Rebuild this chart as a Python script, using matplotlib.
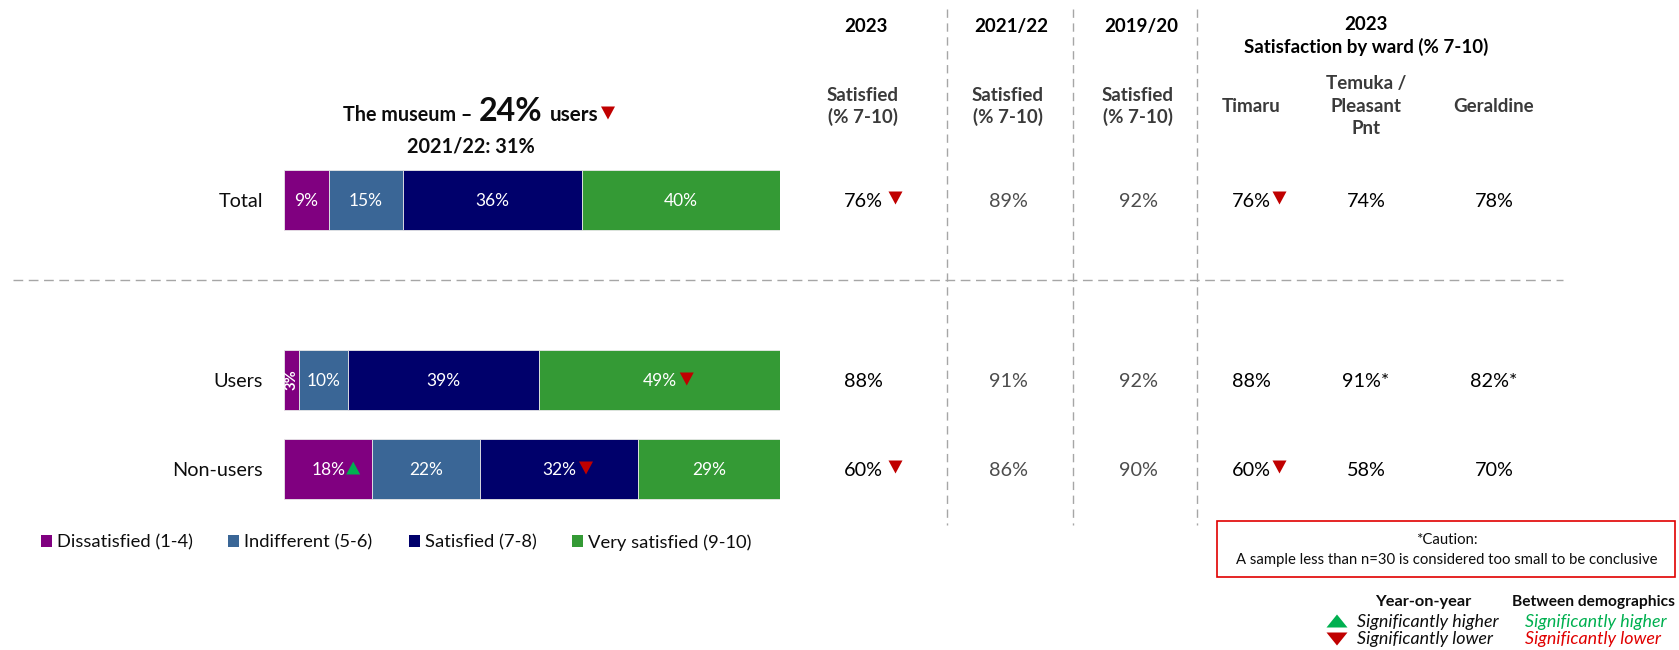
import matplotlib
matplotlib.use("Agg")
import matplotlib.pyplot as plt
from matplotlib.patches import Rectangle, Polygon

# ---------------------------------------------------------------- data
groups = ["Total", "Users", "Non-users"]
levels = ["Dissatisfied (1-4)", "Indifferent (5-6)", "Satisfied (7-8)", "Very satisfied (9-10)"]
dissatisfied = [9, 3, 18]
indifferent = [15, 10, 22]
satisfied = [36, 39, 32]
very_satisfied = [40, 49, 29]

# significance flags on individual bar segments: (group, level) -> direction
segment_flags = {(1, 3): "down", (2, 0): "up", (2, 2): "down"}

# % satisfied (7-10) by survey year
sat_2023 = [76, 88, 60]
sat_2122 = [89, 91, 86]
sat_1920 = [92, 92, 90]
flags_2023 = ["down", None, "down"]

# % satisfied (7-10) by ward, 2023
ward_names = [["Timaru"], ["Temuka /", "Pleasant", "Pnt"], ["Geraldine"]]
ward_timaru = [76, 88, 60]
ward_temuka = [74, 91, 58]
ward_geraldine = [78, 82, 70]
flags_timaru = ["down", None, "down"]
small_temuka = [False, True, False]
small_geraldine = [False, True, False]

users_2023 = 24
users_2122 = 31

# ---------------------------------------------------------------- style
W, H, DPI = 1679, 650, 100
plt.rcParams["font.family"] = ["Lato", "DejaVu Sans"]
level_colors = ["#800080", "#3A6696", "#00006B", "#349A35"]
RED = "#C00000"
GREEN = "#00B050"
GRID = "#A6A6A6"
CAP = 0.7165  # cap height of the text face, in em

fig = plt.figure(figsize=(W / DPI, H / DPI), dpi=DPI)
fig.patch.set_facecolor("white")
renderer = fig.canvas.get_renderer()

# overlay axes in pixel units (origin top-left)
ov = fig.add_axes([0, 0, 1, 1], zorder=3)
ov.set_xlim(0, W)
ov.set_ylim(H, 0)
ov.axis("off")
ov.patch.set_alpha(0)

# bar axes: x in percent, y in pixel rows
bar_left, bar_right = 284, 780
bx = fig.add_axes([bar_left / W, 0, (bar_right - bar_left) / W, 1], zorder=2)
bx.set_xlim(0, 100)
bx.set_ylim(H, 0)
bx.axis("off")

row_y = [200, 380, 469]
bar_h = 60


def size_for(s, width, **kw):
    """Font size (pt) at which string s spans the given pixel width."""
    t = ov.text(0, 0, s, fontsize=10, **kw)
    w = t.get_window_extent(renderer).width
    t.remove()
    return 10 * width / w


def put(x, y, s, size, ha="center", **kw):
    """Text whose cap height is vertically centred on y."""
    base = y + CAP * size * DPI / 72 / 2
    return ov.text(x, base, s, fontsize=size, ha=ha, va="baseline", **kw)


def tri(xc, yc, w, h, kind):
    up = kind == "up"
    col = GREEN if up else RED
    if up:
        pts = [(xc - w / 2, yc + h / 2), (xc + w / 2, yc + h / 2), (xc, yc - h / 2)]
    else:
        pts = [(xc - w / 2, yc - h / 2), (xc + w / 2, yc - h / 2), (xc, yc + h / 2)]
    ov.add_patch(Polygon(pts, closed=True, facecolor=col, edgecolor="none", zorder=5))


def tri_after(t, kind, yc, gap=3, w=14, h=13):
    bb = t.get_window_extent(renderer)
    tri(bb.x1 + gap + w / 2, yc, w, h, kind)


# font sizes
S_BAR = size_for("36%", 34)
S_VAL = size_for("76%", 39)
S_ROW = size_for("Non-users", 91)
S_HEAD = size_for("Satisfied", 72, fontweight="bold")
S_LEG = size_for("Dissatisfied (1-4)", 136)
S_NOTE = size_for("A sample less than n=30 is considered too small to be conclusive", 423)
S_KEYH = size_for("Year-on-year", 97, fontweight="bold")
S_KEYH2 = min(S_KEYH, size_for("Between demographics", 163, fontweight="bold"))
S_KEY = size_for("Significantly higher", 142, style="italic")

# ---------------------------------------------------------------- bars
series = [dissatisfied, indifferent, satisfied, very_satisfied]
totals = [sum(s[i] for s in series) for i in range(len(groups))]
lefts = [0.0] * len(groups)
for li, (vals, col) in enumerate(zip(series, level_colors)):
    shares = [v / t * 100 for v, t in zip(vals, totals)]
    bx.barh(row_y, shares, height=bar_h, left=lefts, color=col,
            edgecolor="#E8E8E8", linewidth=0.6, label=levels[li])
    for gi, (v, s, l) in enumerate(zip(vals, shares, lefts)):
        cx_pix = bar_left + (l + s / 2) / 100 * (bar_right - bar_left)
        if s < 5:
            ov.text(cx_pix + 0.5, row_y[gi], f"{v}%", color="white", fontsize=S_BAR * 0.85,
                    fontweight="bold", rotation=90, ha="center", va="center")
            continue
        t = put(cx_pix, row_y[gi], f"{v}%", S_BAR, color="white")
        flag = segment_flags.get((gi, li))
        if flag:
            tri_after(t, flag, row_y[gi] - 1, gap=1 if flag == "up" else 3)
    lefts = [l + s for l, s in zip(lefts, shares)]

for gi, g in enumerate(groups):
    put(263, row_y[gi], g, S_ROW, ha="right", color="#0D0D0D")

# legend below the bars
leg_sq_x = [41, 228, 409, 572]
leg_tx_x = [57, 244, 425, 588]
for lab, col, sx, tx in zip(levels, level_colors, leg_sq_x, leg_tx_x):
    ov.add_patch(Rectangle((sx, 535), 11, 12, facecolor=col, edgecolor="none"))
    put(tx, 541, lab, S_LEG, ha="left", color="#0D0D0D")

# ---------------------------------------------------------------- title
title_parts = [
    ("The museum –", 343, 130),
    (f"{users_2023}%", 479, 64),
    ("users", 550, 49),
]
for text, x0, w in title_parts:
    sz = size_for(text, w, fontweight="bold")
    ov.text(x0, 121, text, fontsize=sz, fontweight="bold", ha="left", va="baseline",
            color="#0D0D0D")
tri(608, 113, 14, 13, "down")
line2 = f"2021/22: {users_2122}%"
put(471, 145, line2, size_for(line2, 128, fontweight="bold"), fontweight="bold",
    color="#0D0D0D")

# ---------------------------------------------------------------- year columns
col_x = [863, 1008, 1138]
col_years = ["2023", "2021/22", "2019/20"]
col_vals = [sat_2023, sat_2122, sat_1920]
col_colors = ["#000000", "#4D4D4D", "#4D4D4D"]
for x, yr, vals, c in zip(col_x, col_years, col_vals, col_colors):
    put(x + 3, 25, yr, S_HEAD, fontweight="bold", color="#000000")
    put(x, 94, "Satisfied", S_HEAD, fontweight="bold", color="#3A3A3A")
    put(x, 116, "(% 7-10)", S_HEAD, fontweight="bold", color="#3A3A3A")
    for gi, v in enumerate(vals):
        t = put(x, row_y[gi], f"{v}%", S_VAL, color=c)
        if yr == "2023" and flags_2023[gi]:
            tri_after(t, flags_2023[gi], row_y[gi] - 2, gap=6)

# ---------------------------------------------------------------- ward columns
put(1366, 23, "2023", S_HEAD, fontweight="bold", color="#000000")
put(1366, 46, "Satisfaction by ward (% 7-10)", S_HEAD, fontweight="bold", color="#000000")

ward_x = [1251, 1366, 1494]
ward_vals = [ward_timaru, ward_temuka, ward_geraldine]
ward_flags = [flags_timaru, [None] * 3, [None] * 3]
ward_small = [[False] * 3, small_temuka, small_geraldine]
for wi, (x, name) in enumerate(zip(ward_x, ward_names)):
    ys = [105] if len(name) == 1 else [82, 105, 127]
    for line, yy in zip(name, ys):
        put(x, yy, line, S_HEAD, fontweight="bold", color="#3A3A3A")
    for gi, v in enumerate(ward_vals[wi]):
        label = f"{v}%*" if ward_small[wi][gi] else f"{v}%"
        t = put(x, row_y[gi], label, S_VAL, color="#000000")
        if ward_flags[wi][gi]:
            tri_after(t, ward_flags[wi][gi], row_y[gi] - 2, gap=2)

# ---------------------------------------------------------------- dividers
for x in [947, 1073, 1197]:
    ov.plot([x, x], [9, 525], color=GRID, lw=1.0, ls=(0, (6, 4)))
ov.plot([13, 1563], [280, 280], color=GRID, lw=1.0, ls=(0, (7, 4)))

# ---------------------------------------------------------------- notes
ov.add_patch(Rectangle((1217, 521), 458, 56, fill=False, edgecolor="#E00000", lw=1.2))
put(1447, 539, "*Caution:", S_NOTE, color="#0D0D0D")
put(1447, 559, "A sample less than n=30 is considered too small to be conclusive",
    S_NOTE, color="#0D0D0D")

put(1423, 600, "Year-on-year", S_KEYH, fontweight="bold", color="#0D0D0D")
put(1512, 600, "Between demographics", S_KEYH2, fontweight="bold", ha="left",
    color="#0D0D0D")
tri(1337, 621, 21, 13, "up")
tri(1337, 639, 21, 13, "down")
put(1357, 621, "Significantly higher", S_KEY, ha="left", style="italic", color="#0D0D0D")
put(1357, 638, "Significantly lower", S_KEY, ha="left", style="italic", color="#0D0D0D")
put(1525, 621, "Significantly higher", S_KEY, ha="left", style="italic", color=GREEN)
put(1525, 638, "Significantly lower", S_KEY, ha="left", style="italic", color="#E00000")

fig.savefig("out.png", dpi=DPI, facecolor="white")
